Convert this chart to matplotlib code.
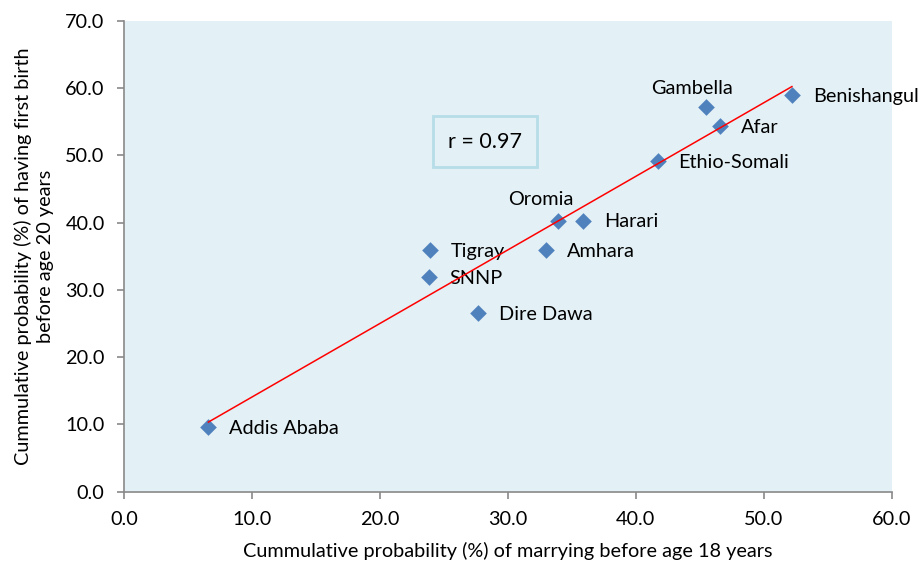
import numpy as np
import matplotlib
matplotlib.use("Agg")
import matplotlib.pyplot as plt
from matplotlib.patches import Rectangle

regions = ["Addis Ababa", "Tigray", "SNNP", "Dire Dawa", "Amhara", "Oromia",
           "Harari", "Ethio-Somali", "Gambella", "Afar", "Benishangul"]
marry18 = [6.6, 23.9, 23.8, 27.7, 33.0, 33.9, 35.9, 41.7, 45.5, 46.6, 52.2]
birth20 = [9.6, 35.9, 31.9, 26.5, 35.9, 40.3, 40.3, 49.1, 57.1, 54.4, 58.9]
xticks = [0, 10, 20, 30, 40, 50, 60]
yticks = [0, 10, 20, 30, 40, 50, 60, 70]

plt.rcParams['font.family'] = ['Lato', 'DejaVu Sans']
FS = 14.3

fig = plt.figure(figsize=(9.21, 5.67), dpi=100)
ax = fig.add_axes([124/921, 1-491.7/567, (891.7-124)/921, (491.7-20.7)/567])
ax.set_facecolor('#E3F0F5')

x = np.array(marry18)
y = np.array(birth20)
ax.scatter(x, y, marker='D', s=72, color='#4F81BD', zorder=3, linewidths=0)

m, b = np.polyfit(x, y, 1)
xl = np.array([x.min(), x.max()])
ax.plot(xl, m*xl + b, color='#FF0000', lw=1.1, zorder=4)

r = np.corrcoef(x, y)[0, 1]

offsets = {"Gambella": (-10, 14, 'center'), "Oromia": (-12, 15, 'center')}
for name, xi, yi in zip(regions, marry18, birth20):
    if name in offsets:
        dx, dy, ha = offsets[name]
    else:
        dx, dy, ha = (15, -1, 'left')
    ax.annotate(name, (xi, yi), xytext=(dx, dy), textcoords='offset points',
                ha=ha, va='center', fontsize=FS, color='#000000',
                annotation_clip=False)

ax.set_xlim(0, 60)
ax.set_ylim(0, 70)
ax.set_xticks(xticks)
ax.set_yticks(yticks)
ax.set_xticklabels([f"{v:.1f}" for v in xticks])
ax.set_yticklabels([f"{v:.1f}" for v in yticks])
for s in ['top', 'right']:
    ax.spines[s].set_visible(False)
for s in ['left', 'bottom']:
    ax.spines[s].set_color('#898989')
    ax.spines[s].set_linewidth(1.2)
ax.tick_params(axis='both', direction='out', length=5, width=1.2, color='#898989',
               labelsize=FS, labelcolor='#000000', pad=9)

ax.set_xlabel("Cummulative probability (%) of marrying before age 18 years",
              fontsize=FS, labelpad=10)
ax.set_ylabel("Cummulative probability (%) of having first birth\nbefore age 20 years",
              fontsize=FS, labelpad=8, linespacing=1.35)

# r box
bx0, bx1 = 433, 537
by0, by1 = 116, 167
fw, fh = 921, 567
fig.patches.append(Rectangle((bx0/fw, 1-by1/fh), (bx1-bx0)/fw, (by1-by0)/fh,
                             transform=fig.transFigure, facecolor='none',
                             edgecolor='#B7DDE8', lw=2, zorder=5))
fig.text((bx0+bx1)/2/fw, 1-(by0+by1)/2/fh, f"r = {r:.2f}", ha='center', va='center',
         fontsize=15.5, color='#000000')

fig.savefig("out.png", dpi=100)
